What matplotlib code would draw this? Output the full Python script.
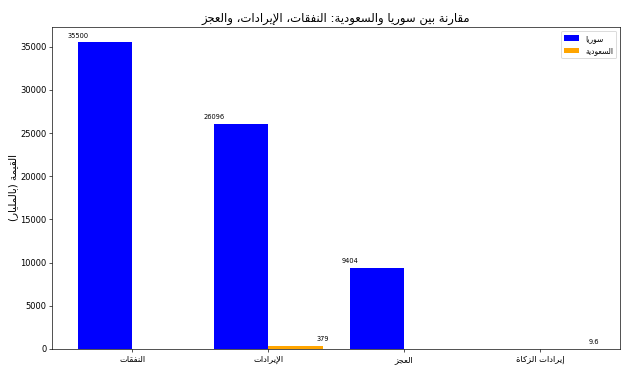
import matplotlib
matplotlib.use("Agg")
import matplotlib.pyplot as plt
import numpy as np

plt.rcParams['font.family'] = ['DejaVu Sans', 'Noto Sans']

categories = ["النفقات", "الإيرادات", "العجز", "إيرادات الزكاة"]
syria = [35500, 26096, 9404, 0]
saudi = [0, 379, 0, 9.6]
series_names = ["سوريا", "السعودية"]
title = "مقارنة بين سوريا والسعودية: النفقات، الإيرادات، والعجز"
ylabel = "القيمة (بالمليار)"

# presentation forms: (isolated code, number of forms)
FORMS = {
    'ا': (0xFE8D, 2), 'إ': (0xFE87, 2), 'ب': (0xFE8F, 4), 'ة': (0xFE93, 2),
    'ت': (0xFE95, 4), 'ج': (0xFE9D, 4), 'د': (0xFEA9, 2), 'ر': (0xFEAD, 2),
    'ز': (0xFEAF, 2), 'س': (0xFEB1, 4), 'ع': (0xFEC9, 4), 'ف': (0xFED1, 4),
    'ق': (0xFED5, 4), 'ك': (0xFED9, 4), 'ل': (0xFEDD, 4), 'م': (0xFEE1, 4),
    'ن': (0xFEE5, 4), 'و': (0xFEED, 2), 'ي': (0xFEF1, 4),
}
LAM_ALEF = {'ا': 0xFEFB, 'إ': 0xFEF9}


def ar(text):
    # shape arabic letters and put them in visual order
    tokens = []
    i = 0
    while i < len(text):
        c = text[i]
        if c == 'ل' and i + 1 < len(text) and text[i + 1] in LAM_ALEF:
            tokens.append(('LA', LAM_ALEF[text[i + 1]], 2))
            i += 2
            continue
        if c in FORMS:
            tokens.append((c, FORMS[c][0], FORMS[c][1]))
        else:
            tokens.append((c, None, 0))
        i += 1
    out = []
    for k, (c, code, n) in enumerate(tokens):
        if code is None:
            out.append(c)
            continue
        prev_joins = k > 0 and tokens[k - 1][2] == 4
        next_joins = n == 4 and k + 1 < len(tokens) and tokens[k + 1][1] is not None
        if prev_joins and next_joins:
            idx = 3
        elif prev_joins:
            idx = 1
        elif next_joins:
            idx = 2
        else:
            idx = 0
        out.append(chr(code + idx))
    s = "".join(out)[::-1]
    return s.translate(str.maketrans("()", ")("))


x = np.arange(len(categories))
width = 0.4

fig, ax = plt.subplots(figsize=(10.5, 6.167), dpi=60)
fig.subplots_adjust(left=0.083, right=0.984, top=0.927, bottom=0.057)

bars1 = ax.bar(x - width / 2, syria, width, color='blue', label=ar(series_names[0]))
bars2 = ax.bar(x + width / 2, saudi, width, color='orange', label=ar(series_names[1]))

for i, v in enumerate(syria):
    if v > 0:
        ax.text(x[i] - width, v + 400, f"{v:g}", ha='center', va='bottom', fontsize=8)
for i, v in enumerate(saudi):
    if v > 0:
        ax.text(x[i] + width, v + 400, f"{v:g}", ha='center', va='bottom', fontsize=8)

ax.set_xticks(x)
ax.set_xticklabels([ar(c) for c in categories])
ax.set_ylabel(ar(ylabel), fontsize=12.5, labelpad=2)
ax.set_title(ar(title), fontsize=14)
ax.legend(fontsize=9)

plt.savefig("out.png", dpi=60)
